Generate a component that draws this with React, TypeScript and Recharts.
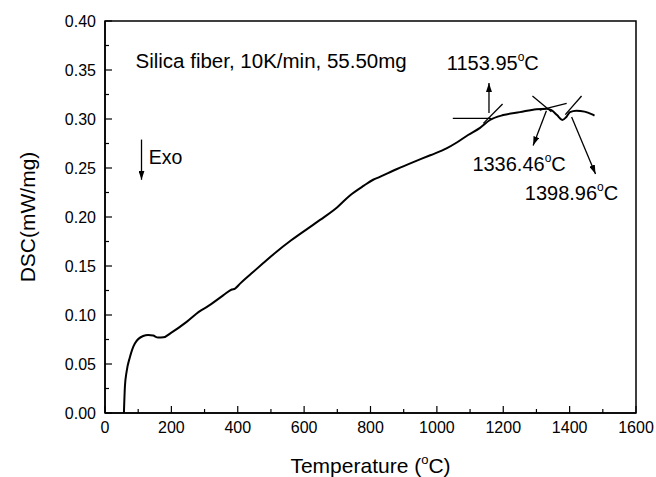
import React from 'react'
import { LineChart, Line, XAxis, YAxis, ReferenceLine, ReferenceDot, ReferenceArea, Label } from 'recharts'

// DSC curve
const temperature = [57, 60, 65, 75, 90, 115, 130, 145, 160, 176, 200, 246, 286, 306, 356, 382, 392, 407, 440, 477, 517, 560, 627, 648, 700, 738, 780, 808, 828, 880, 929, 980, 1029, 1060, 1094, 1130, 1160, 1200, 1250, 1300, 1330, 1345, 1362, 1378, 1390, 1401, 1420, 1445, 1466, 1475]
const dscValue = [0, 0.027, 0.042, 0.057, 0.071, 0.0786, 0.0796, 0.079, 0.077, 0.0772, 0.082, 0.093, 0.104, 0.108, 0.12, 0.126, 0.127, 0.132, 0.142, 0.153, 0.1646, 0.176, 0.192, 0.197, 0.21, 0.222, 0.232, 0.238, 0.241, 0.249, 0.256, 0.263, 0.27, 0.276, 0.2837, 0.291, 0.299, 0.304, 0.307, 0.31, 0.3105, 0.309, 0.304, 0.299, 0.302, 0.307, 0.3085, 0.3075, 0.305, 0.3035]

const xTicks = [0, 100, 200, 300, 400, 500, 600, 700, 800, 900, 1000, 1100, 1200, 1300, 1400, 1500, 1600]
const yTicks = [0, 0.025, 0.05, 0.075, 0.1, 0.125, 0.15, 0.175, 0.2, 0.225, 0.25, 0.275, 0.3, 0.325, 0.35, 0.375, 0.4]

// tangent construction lines [x1, y1, x2, y2]
const tangents = [
  [1048, 0.3007, 1163, 0.3007],
  [1140, 0.2955, 1198, 0.3153],
  [1288, 0.3235, 1345, 0.3075],
  [1310, 0.309, 1391, 0.316],
  [1436, 0.3235, 1387, 0.3045],
]
// arrows, head at second point
const arrows = [
  [1157, 0.306, 1157, 0.3367],
  [1330, 0.3085, 1290, 0.273],
  [1406, 0.302, 1478, 0.244],
  [110, 0.279, 110, 0.238],
]
const onsetLabels = [
  { x: 1030, y: 0.3505, text: '1153.95' },
  { x: 1107, y: 0.2467, text: '1336.46' },
  { x: 1265, y: 0.2178, text: '1398.96' },
]

const data = temperature.map((t, i) => ({ t, dsc: dscValue[i] }))
const font = '"Liberation Sans", Arial, sans-serif'

const XTick = (props: any) => {
  const { x, y, payload } = props
  const major = payload.value % 200 === 0
  return (
    <g>
      <line x1={x} y1={y} x2={x} y2={y - (major ? 7 : 4)} stroke="#000" strokeWidth={1.2} />
      {major && (
        <text x={x} y={y + 20} textAnchor="middle" fontSize={16} fontFamily={font} fill="#000">
          {payload.value}
        </text>
      )}
    </g>
  )
}

const YTick = (props: any) => {
  const { x, y, payload } = props
  const major = Math.round(payload.value * 1000) % 50 === 0
  return (
    <g>
      <line x1={x} y1={y} x2={x + (major ? 7 : 4)} y2={y} stroke="#000" strokeWidth={1.2} />
      {major && (
        <text x={x - 9} y={y + 6} textAnchor="end" fontSize={16} fontFamily={font} fill="#000">
          {payload.value.toFixed(2)}
        </text>
      )}
    </g>
  )
}

const XTitle = (props: any) => {
  const vb = props.viewBox
  return (
    <text x={vb.x + vb.width / 2} y={vb.y + 60} textAnchor="middle" fontSize={21} fontFamily={font} fill="#000">
      Temperature (<tspan fontSize={13} dy={-9}>o</tspan><tspan dy={9}>C)</tspan>
    </text>
  )
}

const YTitle = (props: any) => {
  const vb = props.viewBox
  const cx = vb.x + 35
  const cy = vb.y + vb.height / 2
  return (
    <text x={cx} y={cy} transform={`rotate(-90 ${cx} ${cy})`} textAnchor="middle" fontSize={21} fontFamily={font} fill="#000">
      DSC(mW/mg)
    </text>
  )
}

const plainLine = (p: any) => <line x1={p.x1} y1={p.y1} x2={p.x2} y2={p.y2} stroke="#000" strokeWidth={1.3} />
const arrowLine = (p: any) => (
  <line x1={p.x1} y1={p.y1} x2={p.x2} y2={p.y2} stroke="#000" strokeWidth={1.3} markerEnd="url(#arrowHead)" />
)

export default function App() {
  return (
    <div style={{ position: 'absolute', left: 0, top: 0, background: '#fff', fontFamily: font }}>
      <svg width={0} height={0} style={{ position: 'absolute' }}>
        <defs>
          <marker id="arrowHead" viewBox="0 0 10 10" refX="10" refY="5" markerWidth="9" markerHeight="6" markerUnits="userSpaceOnUse" orient="auto" preserveAspectRatio="none">
            <path d="M0,0 L10,5 L0,10 z" fill="#000" />
          </marker>
        </defs>
      </svg>
      <LineChart width={656} height={477} data={data} margin={{ top: 21, right: 20, bottom: 0, left: 0 }}>
        <XAxis
          dataKey="t"
          type="number"
          domain={[0, 1600]}
          ticks={xTicks}
          interval={0}
          tick={<XTick />}
          tickLine={false}
          tickSize={0}
          tickMargin={0}
          height={64}
          axisLine={{ stroke: '#000', strokeWidth: 1.5 }}
        >
          <Label content={<XTitle />} />
        </XAxis>
        <YAxis
          type="number"
          domain={[0, 0.4]}
          ticks={yTicks}
          interval={0}
          tick={<YTick />}
          tickLine={false}
          tickSize={0}
          tickMargin={0}
          width={105}
          axisLine={{ stroke: '#000', strokeWidth: 1.5 }}
        >
          <Label content={<YTitle />} />
        </YAxis>
        <ReferenceArea x1={0} x2={1600} y1={0} y2={0.4} fill="none" stroke="#000" strokeWidth={1.5} />
        {tangents.map((s, i) => (
          <ReferenceLine key={'t' + i} segment={[{ x: s[0], y: s[1] }, { x: s[2], y: s[3] }]} shape={plainLine} />
        ))}
        {arrows.map((s, i) => (
          <ReferenceLine key={'a' + i} segment={[{ x: s[0], y: s[1] }, { x: s[2], y: s[3] }]} shape={arrowLine} />
        ))}
        <ReferenceDot
          x={92}
          y={0.3525}
          r={0}
          shape={(p: any) => (
            <text x={p.cx} y={p.cy} fontSize={20.5} fontFamily={font} fill="#000">
              Silica fiber, 10K/min, 55.50mg
            </text>
          )}
        />
        <ReferenceDot
          x={132}
          y={0.2542}
          r={0}
          shape={(p: any) => (
            <text x={p.cx} y={p.cy} fontSize={19.5} fontFamily={font} fill="#000">
              Exo
            </text>
          )}
        />
        {onsetLabels.map((l) => (
          <ReferenceDot
            key={l.text}
            x={l.x}
            y={l.y}
            r={0}
            shape={(p: any) => (
              <text x={p.cx} y={p.cy} fontSize={20} fontFamily={font} fill="#000">
                {l.text}
                <tspan fontSize={12} dy={-9}>o</tspan>
                <tspan dy={9}>C</tspan>
              </text>
            )}
          />
        ))}
        <Line dataKey="dsc" type="monotone" stroke="#000" strokeWidth={2} dot={false} isAnimationActive={false} />
      </LineChart>
    </div>
  )
}
